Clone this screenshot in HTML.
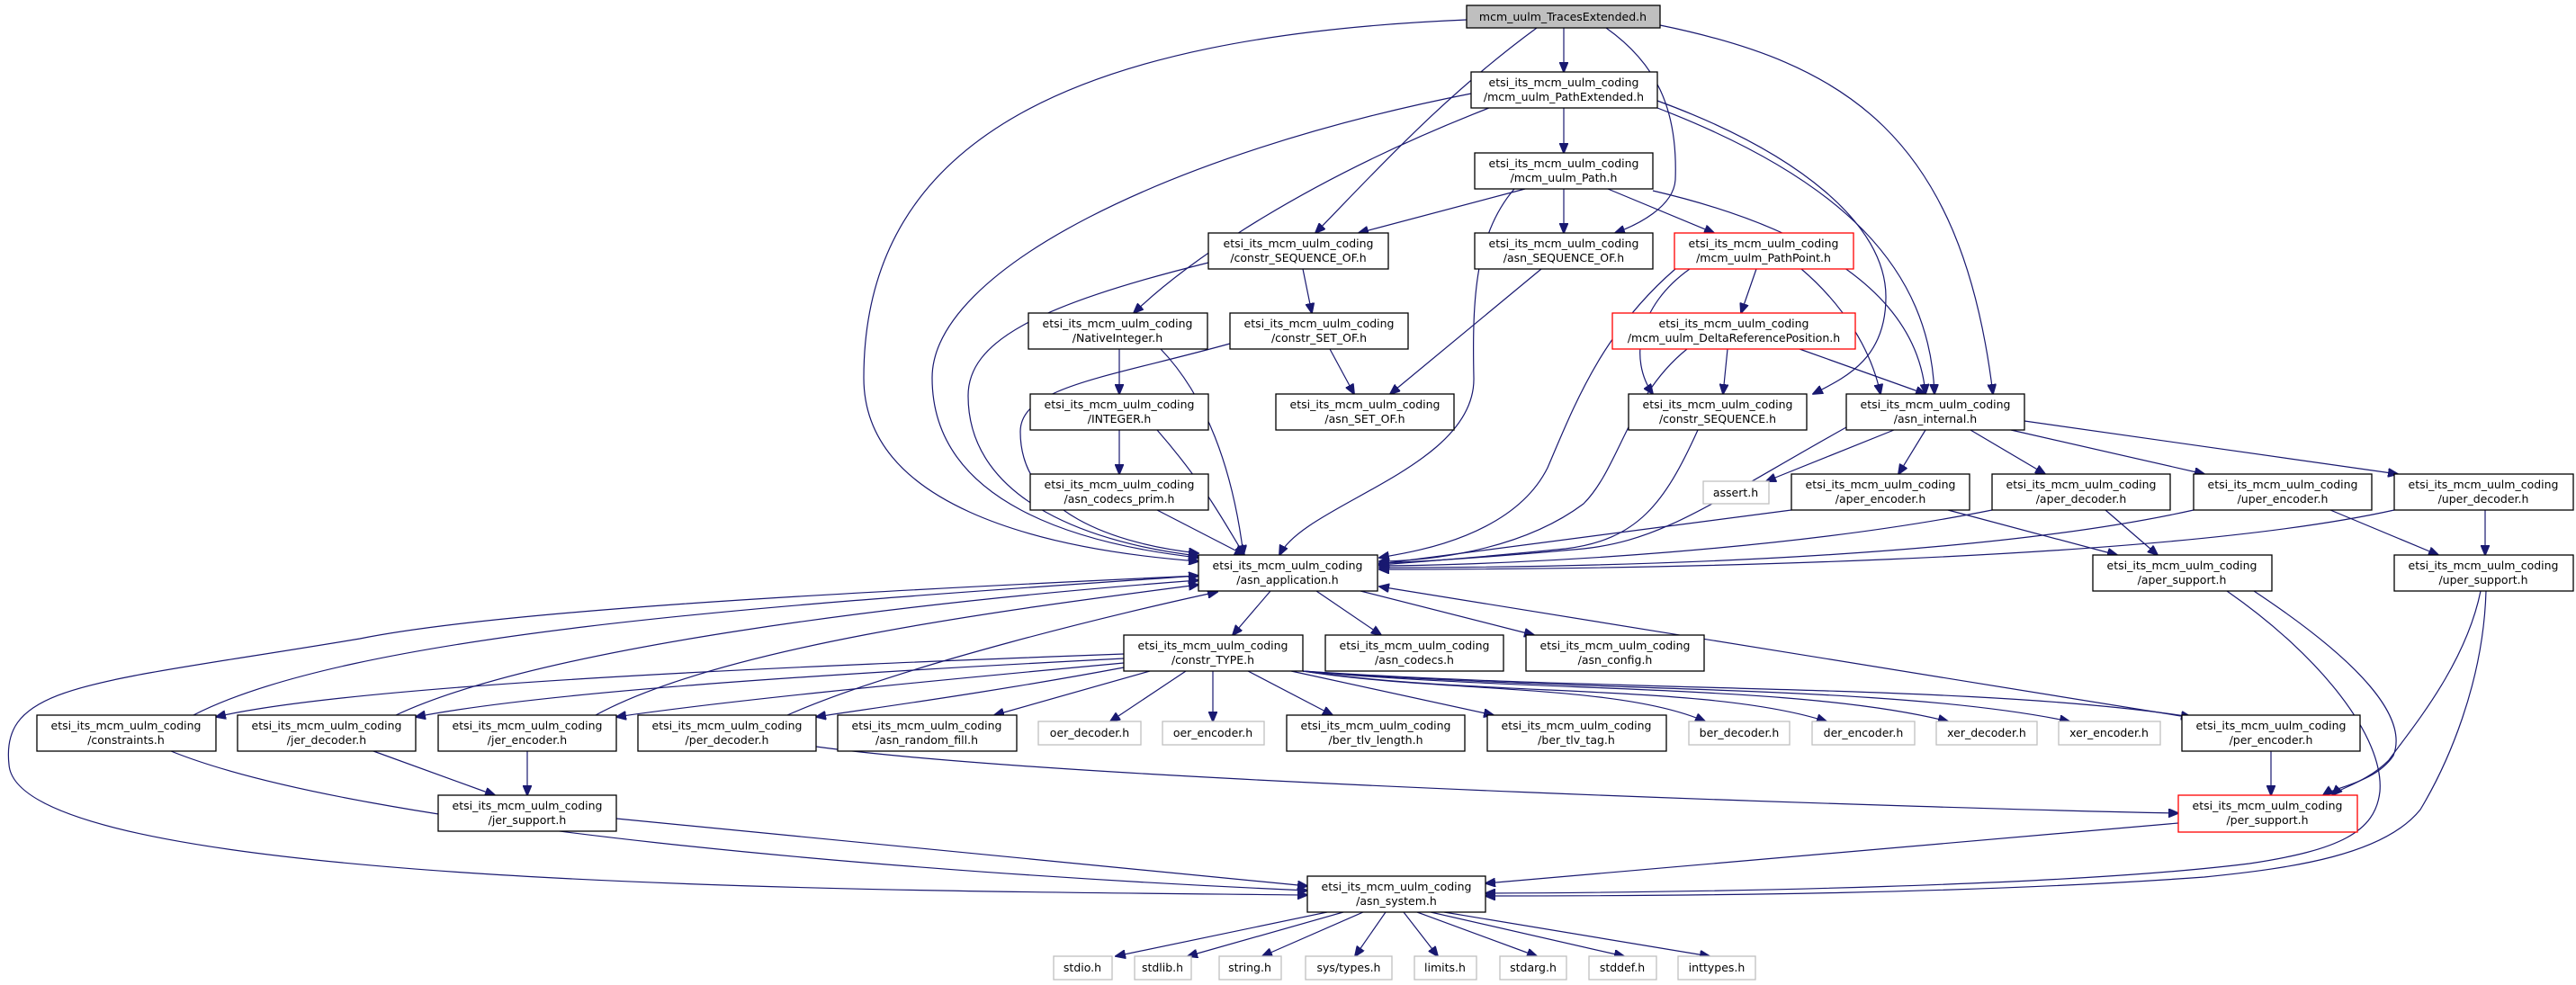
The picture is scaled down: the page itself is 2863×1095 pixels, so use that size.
<!DOCTYPE html>
<html><head><meta charset="utf-8"><style>
html,body{margin:0;padding:0;background:#fff;}
svg{display:block;}
text{font-family:"DejaVu Sans","Liberation Sans",sans-serif;font-size:12.5px;fill:#000;text-anchor:middle;}
.e{fill:none;stroke:#191970;stroke-width:1.2;marker-end:url(#a);}
.n{fill:#fff;stroke:#000;stroke-width:1.3;}
.g{fill:#fff;stroke:#bfbfbf;stroke-width:1.3;}
.r{fill:#fff;stroke:#ff0000;stroke-width:1.3;}
</style></head><body>
<svg width="2863" height="1095" viewBox="0 0 2863 1095" xmlns="http://www.w3.org/2000/svg">
<defs><marker id="a" markerWidth="12" markerHeight="10" refX="11" refY="5" orient="auto" markerUnits="userSpaceOnUse"><path d="M0,0 L12,5 L0,10 z" fill="#191970" stroke="#191970"/></marker></defs>

<!-- Traces -->
<path class="e" d="M1738,31 L1738,80"/>
<path class="e" d="M1630,22 C1200,40 960,150 960,420 C960,560 1150,610 1332,624"/>
<path class="e" d="M1708,31 C1600,110 1520,200 1462,259"/>
<path class="e" d="M1785,31 C1840,70 1865,120 1862,200 C1860,230 1820,250 1795,259"/>
<path class="e" d="M1845,28 C2050,70 2180,150 2215,438"/>
<!-- PathExtended -->
<path class="e" d="M1738,120 L1738,170"/>
<path class="e" d="M1635,104 C1300,170 1036,300 1036,420 C1036,560 1200,605 1332,620"/>
<path class="e" d="M1655,120 C1450,200 1320,290 1260,348"/>
<path class="e" d="M1842,112 C2000,170 2096,250 2096,330 C2096,400 2050,420 2015,438"/>
<path class="e" d="M1842,120 C2050,200 2145,300 2150,438"/>
<!-- Path -->
<path class="e" d="M1695,210 L1510,259"/>
<path class="e" d="M1738,210 L1738,259"/>
<path class="e" d="M1787,210 L1905,259"/>
<path class="e" d="M1683,210 C1640,260 1636,330 1638,420 C1640,520 1450,560 1422,617"/>
<path class="e" d="M1837,212 C2000,250 2130,320 2140,438"/>
<!-- constr_SEQUENCE_OF -->
<path class="e" d="M1448,299 L1458,348"/>
<path class="e" d="M1343,292 C1150,340 1076,380 1076,440 C1076,560 1220,605 1332,618"/>
<path class="e" d="M1713,299 L1545,438"/>
<!-- PathPoint -->
<path class="e" d="M1952,299 L1935,348"/>
<path class="e" d="M1878,299 C1820,340 1810,400 1837,438"/>
<path class="e" d="M1862,299 C1780,370 1750,450 1720,520 C1680,600 1560,615 1533,620"/>
<path class="e" d="M2002,299 C2050,340 2080,390 2090,438"/>
<!-- NativeInteger -->
<path class="e" d="M1244,388 L1244,438"/>
<path class="e" d="M1290,388 C1340,440 1370,520 1382,617"/>
<!-- constr_SET_OF -->
<path class="e" d="M1478,388 L1505,438"/>
<path class="e" d="M1367,382 C1230,420 1134,430 1134,480 C1134,570 1240,605 1332,615"/>
<!-- DeltaRef -->
<path class="e" d="M1920,388 L1915,438"/>
<path class="e" d="M2000,388 L2140,438"/>
<path class="e" d="M1875,388 C1810,440 1800,520 1760,560 C1680,620 1560,624 1533,624"/>
<!-- INTEGER, codecs_prim -->
<path class="e" d="M1244,478 L1244,527"/>
<path class="e" d="M1286,478 C1340,540 1360,580 1383,617"/>
<path class="e" d="M1286,567 L1383,617"/>
<!-- constr_SEQUENCE -->
<path class="e" d="M1887,478 C1850,560 1820,600 1740,610 C1640,620 1560,626 1533,628"/>
<!-- asn_internal -->
<path class="e" d="M2052,475 C1900,560 1850,600 1760,610 C1650,620 1570,625 1533,626"/>
<path class="e" d="M2105,478 L1963,535"/>
<path class="e" d="M2140,478 L2110,527"/>
<path class="e" d="M2190,478 L2273,527"/>
<path class="e" d="M2235,478 L2450,527"/>
<path class="e" d="M2250,468 L2665,527"/>
<!-- level 4 -->
<path class="e" d="M1991,567 L1533,627"/>
<path class="e" d="M2165,567 L2353,617"/>
<path class="e" d="M2214,567 C2000,610 1700,628 1533,629"/>
<path class="e" d="M2340,567 L2398,617"/>
<path class="e" d="M2438,567 C2200,620 1800,631 1533,631"/>
<path class="e" d="M2590,567 L2710,617"/>
<path class="e" d="M2661,567 C2400,625 1800,633 1533,633"/>
<path class="e" d="M2762,567 L2762,617"/>
<!-- asn_application -->
<path class="e" d="M1412,657 L1370,706"/>
<path class="e" d="M1463,657 L1535,706"/>
<path class="e" d="M1512,657 L1705,706"/>
<path class="e" d="M1332,640 C900,660 550,680 400,710 C100,760 0,760 10,850 C20,990 1000,990 1453,995"/>
<!-- back edges into asn_application -->
<path class="e" d="M215,795 C400,700 900,670 1332,640"/>
<path class="e" d="M440,795 C600,720 1000,670 1332,645"/>
<path class="e" d="M662,795 C800,720 1100,680 1332,650"/>
<path class="e" d="M875,795 C1000,740 1250,680 1353,658"/>
<path class="e" d="M2430,797 L1533,652"/>
<!-- constr_TYPE -->
<path class="e" d="M1249,727 C900,740 400,760 240,797"/>
<path class="e" d="M1249,732 C900,750 600,770 462,797"/>
<path class="e" d="M1249,737 C1000,760 800,780 685,797"/>
<path class="e" d="M1249,742 C1100,770 950,790 907,797"/>
<path class="e" d="M1278,746 L1105,795"/>
<path class="e" d="M1318,746 L1234,802"/>
<path class="e" d="M1348,746 L1348,802"/>
<path class="e" d="M1387,746 L1481,795"/>
<path class="e" d="M1435,746 L1660,795"/>
<path class="e" d="M1448,746 C1600,770 1800,760 1895,802"/>
<path class="e" d="M1448,746 C1650,775 1900,760 2030,802"/>
<path class="e" d="M1448,746 C1700,770 2000,760 2165,802"/>
<path class="e" d="M1448,746 C1750,770 2100,760 2300,802"/>
<path class="e" d="M1448,746 C1800,770 2200,760 2435,797"/>
<!-- bottom -->
<path class="e" d="M190,835 C400,920 1000,970 1453,990"/>
<path class="e" d="M415,835 L550,884"/>
<path class="e" d="M586,835 L586,884"/>
<path class="e" d="M685,910 L1453,985"/>
<path class="e" d="M907,830 C1200,870 2200,900 2421,904"/>
<path class="e" d="M2524,835 L2524,884"/>
<path class="e" d="M2505,657 C2600,720 2680,790 2660,840 C2640,870 2595,875 2582,884"/>
<path class="e" d="M2475,657 C2580,730 2650,820 2645,880 C2640,925 2600,945 2500,960 C2300,985 1900,992 1651,993"/>
<path class="e" d="M2757,657 C2740,740 2680,810 2655,845 C2630,870 2600,876 2592,884"/>
<path class="e" d="M2763,657 C2760,760 2720,850 2690,900 C2650,950 2550,965 2450,975 C2200,993 1900,996 1651,996"/>
<path class="e" d="M2421,915 L1651,982"/>
<!-- asn_system -> std -->
<path class="e" d="M1475,1014 L1240,1063"/>
<path class="e" d="M1493,1014 L1320,1063"/>
<path class="e" d="M1515,1014 L1403,1063"/>
<path class="e" d="M1540,1014 L1506,1063"/>
<path class="e" d="M1560,1014 L1598,1063"/>
<path class="e" d="M1575,1014 L1708,1063"/>
<path class="e" d="M1590,1014 L1805,1063"/>
<path class="e" d="M1605,1014 L1900,1063"/>

<!-- nodes -->
<rect x="1630" y="6" width="215" height="25" fill="#bfbfbf" stroke="#000" stroke-width="1.3"/><text x="1737" y="23">mcm_uulm_TracesExtended.h</text>

<rect class="n" x="1635" y="80" width="207" height="40"/><text x="1738" y="96">etsi_its_mcm_uulm_coding</text><text x="1738" y="112">/mcm_uulm_PathExtended.h</text>
<rect class="n" x="1639" y="170" width="198" height="40"/><text x="1738" y="186">etsi_its_mcm_uulm_coding</text><text x="1738" y="202">/mcm_uulm_Path.h</text>
<rect class="n" x="1343" y="259" width="200" height="40"/><text x="1443" y="275">etsi_its_mcm_uulm_coding</text><text x="1443" y="291">/constr_SEQUENCE_OF.h</text>
<rect class="n" x="1639" y="259" width="198" height="40"/><text x="1738" y="275">etsi_its_mcm_uulm_coding</text><text x="1738" y="291">/asn_SEQUENCE_OF.h</text>
<rect class="r" x="1861" y="259" width="199" height="40"/><text x="1960" y="275">etsi_its_mcm_uulm_coding</text><text x="1960" y="291">/mcm_uulm_PathPoint.h</text>
<rect class="n" x="1143" y="348" width="199" height="40"/><text x="1242" y="364">etsi_its_mcm_uulm_coding</text><text x="1242" y="380">/NativeInteger.h</text>
<rect class="n" x="1367" y="348" width="198" height="40"/><text x="1466" y="364">etsi_its_mcm_uulm_coding</text><text x="1466" y="380">/constr_SET_OF.h</text>
<rect class="r" x="1792" y="348" width="270" height="40"/><text x="1927" y="364">etsi_its_mcm_uulm_coding</text><text x="1927" y="380">/mcm_uulm_DeltaReferencePosition.h</text>
<rect class="n" x="1145" y="438" width="198" height="40"/><text x="1244" y="454">etsi_its_mcm_uulm_coding</text><text x="1244" y="470">/INTEGER.h</text>
<rect class="n" x="1418" y="438" width="198" height="40"/><text x="1517" y="454">etsi_its_mcm_uulm_coding</text><text x="1517" y="470">/asn_SET_OF.h</text>
<rect class="n" x="1810" y="438" width="198" height="40"/><text x="1909" y="454">etsi_its_mcm_uulm_coding</text><text x="1909" y="470">/constr_SEQUENCE.h</text>
<rect class="n" x="2052" y="438" width="198" height="40"/><text x="2151" y="454">etsi_its_mcm_uulm_coding</text><text x="2151" y="470">/asn_internal.h</text>
<rect class="n" x="1145" y="527" width="198" height="40"/><text x="1244" y="543">etsi_its_mcm_uulm_coding</text><text x="1244" y="559">/asn_codecs_prim.h</text>
<rect class="g" x="1893" y="535" width="73" height="25"/><text x="1929" y="552">assert.h</text>
<rect class="n" x="1991" y="527" width="198" height="40"/><text x="2090" y="543">etsi_its_mcm_uulm_coding</text><text x="2090" y="559">/aper_encoder.h</text>
<rect class="n" x="2214" y="527" width="198" height="40"/><text x="2313" y="543">etsi_its_mcm_uulm_coding</text><text x="2313" y="559">/aper_decoder.h</text>
<rect class="n" x="2438" y="527" width="198" height="40"/><text x="2537" y="543">etsi_its_mcm_uulm_coding</text><text x="2537" y="559">/uper_encoder.h</text>
<rect class="n" x="2661" y="527" width="199" height="40"/><text x="2760" y="543">etsi_its_mcm_uulm_coding</text><text x="2760" y="559">/uper_decoder.h</text>
<rect class="n" x="1332" y="617" width="199" height="40"/><text x="1431" y="633">etsi_its_mcm_uulm_coding</text><text x="1431" y="649">/asn_application.h</text>
<rect class="n" x="2326" y="617" width="199" height="40"/><text x="2425" y="633">etsi_its_mcm_uulm_coding</text><text x="2425" y="649">/aper_support.h</text>
<rect class="n" x="2661" y="617" width="199" height="40"/><text x="2760" y="633">etsi_its_mcm_uulm_coding</text><text x="2760" y="649">/uper_support.h</text>
<rect class="n" x="1249" y="706" width="199" height="40"/><text x="1348" y="722">etsi_its_mcm_uulm_coding</text><text x="1348" y="738">/constr_TYPE.h</text>
<rect class="n" x="1473" y="706" width="198" height="40"/><text x="1572" y="722">etsi_its_mcm_uulm_coding</text><text x="1572" y="738">/asn_codecs.h</text>
<rect class="n" x="1696" y="706" width="198" height="40"/><text x="1795" y="722">etsi_its_mcm_uulm_coding</text><text x="1795" y="738">/asn_config.h</text>
<rect class="n" x="41" y="795" width="199" height="40"/><text x="140" y="811">etsi_its_mcm_uulm_coding</text><text x="140" y="827">/constraints.h</text>
<rect class="n" x="264" y="795" width="198" height="40"/><text x="363" y="811">etsi_its_mcm_uulm_coding</text><text x="363" y="827">/jer_decoder.h</text>
<rect class="n" x="487" y="795" width="198" height="40"/><text x="586" y="811">etsi_its_mcm_uulm_coding</text><text x="586" y="827">/jer_encoder.h</text>
<rect class="n" x="709" y="795" width="198" height="40"/><text x="808" y="811">etsi_its_mcm_uulm_coding</text><text x="808" y="827">/per_decoder.h</text>
<rect class="n" x="931" y="795" width="199" height="40"/><text x="1030" y="811">etsi_its_mcm_uulm_coding</text><text x="1030" y="827">/asn_random_fill.h</text>
<rect class="g" x="1154" y="802" width="114" height="26"/><text x="1211" y="819">oer_decoder.h</text>
<rect class="g" x="1292" y="802" width="113" height="26"/><text x="1348" y="819">oer_encoder.h</text>
<rect class="n" x="1430" y="795" width="198" height="40"/><text x="1529" y="811">etsi_its_mcm_uulm_coding</text><text x="1529" y="827">/ber_tlv_length.h</text>
<rect class="n" x="1653" y="795" width="199" height="40"/><text x="1752" y="811">etsi_its_mcm_uulm_coding</text><text x="1752" y="827">/ber_tlv_tag.h</text>
<rect class="g" x="1877" y="802" width="112" height="26"/><text x="1933" y="819">ber_decoder.h</text>
<rect class="g" x="2014" y="802" width="114" height="26"/><text x="2071" y="819">der_encoder.h</text>
<rect class="g" x="2152" y="802" width="112" height="26"/><text x="2208" y="819">xer_decoder.h</text>
<rect class="g" x="2288" y="802" width="113" height="26"/><text x="2344" y="819">xer_encoder.h</text>
<rect class="n" x="2425" y="795" width="198" height="40"/><text x="2524" y="811">etsi_its_mcm_uulm_coding</text><text x="2524" y="827">/per_encoder.h</text>
<rect class="n" x="487" y="884" width="198" height="40"/><text x="586" y="900">etsi_its_mcm_uulm_coding</text><text x="586" y="916">/jer_support.h</text>
<rect class="r" x="2421" y="884" width="199" height="41"/><text x="2520" y="900">etsi_its_mcm_uulm_coding</text><text x="2520" y="916">/per_support.h</text>
<rect class="n" x="1453" y="974" width="198" height="40"/><text x="1552" y="990">etsi_its_mcm_uulm_coding</text><text x="1552" y="1006">/asn_system.h</text>
<rect class="g" x="1171" y="1063" width="65" height="26"/><text x="1203" y="1080">stdio.h</text>
<rect class="g" x="1261" y="1063" width="63" height="26"/><text x="1292" y="1080">stdlib.h</text>
<rect class="g" x="1355" y="1063" width="69" height="26"/><text x="1389" y="1080">string.h</text>
<rect class="g" x="1451" y="1063" width="96" height="26"/><text x="1499" y="1080">sys/types.h</text>
<rect class="g" x="1572" y="1063" width="69" height="26"/><text x="1606" y="1080">limits.h</text>
<rect class="g" x="1667" y="1063" width="74" height="26"/><text x="1704" y="1080">stdarg.h</text>
<rect class="g" x="1766" y="1063" width="75" height="26"/><text x="1803" y="1080">stddef.h</text>
<rect class="g" x="1865" y="1063" width="86" height="26"/><text x="1908" y="1080">inttypes.h</text>
</svg>
</body></html>
